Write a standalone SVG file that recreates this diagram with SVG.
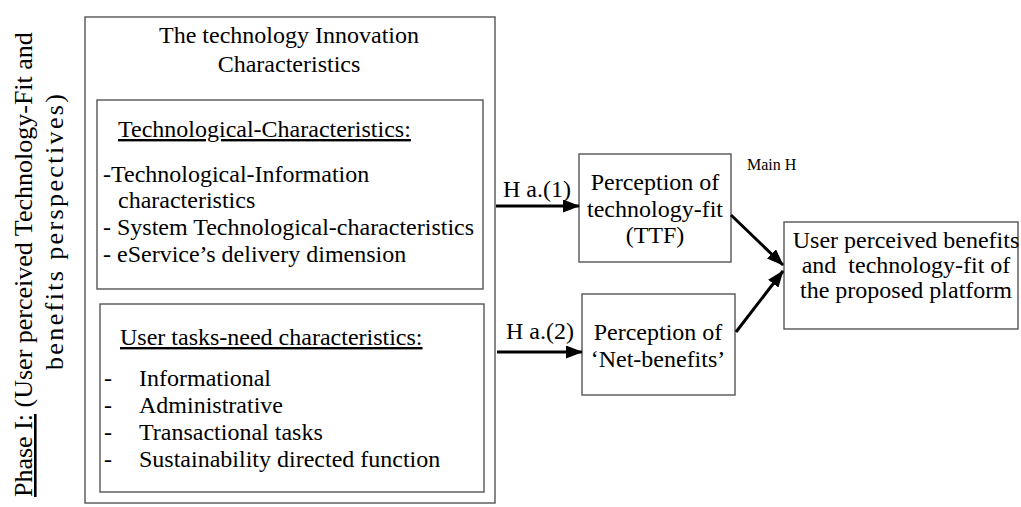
<svg xmlns="http://www.w3.org/2000/svg" width="1021" height="507" viewBox="0 0 1021 507">
  <defs>
    <marker id="arrow" markerWidth="17" markerHeight="13" refX="16" refY="6.5" orient="auto" markerUnits="userSpaceOnUse">
      <path d="M0,0 L17,6.5 L0,13 Z" fill="#000"/>
    </marker>
    <style>
      text { font-family: "Liberation Serif", "Times New Roman", serif; font-size: 24px; fill: #000; }
      .box { fill: #fff; stroke: #555; stroke-width: 1.4; }
      .c { text-anchor: middle; }
      .u { text-decoration: underline; }
      .side { font-size: 26px; }
      .small { font-size: 16px; }
      .edge { stroke: #000; stroke-width: 3; fill: none; marker-end: url(#arrow); }
      .pre { white-space: pre; }
    </style>
  </defs>

  <rect width="1021" height="507" fill="#fff"/>

  <!-- side heading, rotated -->
  <g id="phase-label">
    <text class="side pre" transform="translate(32,497) rotate(-90)"><tspan class="u">Phase I:</tspan> (User perceived Technology-Fit and</text>
    <text class="side" transform="translate(63,370) rotate(-90)" textLength="276" lengthAdjust="spacing">benefits perspectives)</text>
  </g>

  <!-- innovation characteristics container -->
  <g id="innovation">
    <rect class="box" x="85" y="17" width="410" height="486"/>
    <text class="c" x="289" y="43">The technology Innovation</text>
    <text class="c" x="289" y="72">Characteristics</text>
  </g>

  <g id="tech-characteristics">
    <rect class="box" x="97" y="100" width="386" height="189"/>
    <text class="u" x="118" y="137">Technological-Characteristics:</text>
    <text x="103" y="182">-Technological-Information</text>
    <text x="118" y="208">characteristics</text>
    <text x="103" y="235">- System Technological-characteristics</text>
    <text x="103" y="262">- eService’s delivery dimension</text>
  </g>

  <g id="task-characteristics">
    <rect class="box" x="100" y="304" width="384" height="188"/>
    <text class="u" x="120" y="345">User tasks-need characteristics:</text>
    <text x="104" y="386">-</text><text x="139" y="386">Informational</text>
    <text x="104" y="413">-</text><text x="139" y="413">Administrative</text>
    <text x="104" y="440">-</text><text x="139" y="440">Transactional tasks</text>
    <text x="104" y="467">-</text><text x="139" y="467">Sustainability directed function</text>
  </g>

  <g id="ttf">
    <rect class="box" x="579" y="154" width="152" height="108"/>
    <text class="c" x="655" y="190">Perception of</text>
    <text class="c" x="655" y="217">technology-fit</text>
    <text class="c" x="655" y="243">(TTF)</text>
  </g>

  <g id="net-benefits">
    <rect class="box" x="582" y="294" width="153" height="101"/>
    <text class="c" x="658" y="340">Perception of</text>
    <text class="c" x="658" y="367">‘Net-benefits’</text>
  </g>

  <g id="outcome">
    <rect class="box" x="784" y="222" width="234" height="107"/>
    <text class="c" x="906" y="248">User perceived benefits</text>
    <text class="c pre" x="906" y="273">and  technology-fit of</text>
    <text class="c" x="906" y="298">the proposed platform</text>
  </g>

  <g id="connectors">
    <line class="edge" x1="496" y1="206" x2="579" y2="206"/>
    <line class="edge" x1="497" y1="352" x2="582" y2="352"/>
    <line class="edge" x1="731" y1="215" x2="783" y2="265"/>
    <line class="edge" x1="736" y1="332" x2="783" y2="271"/>
    <text x="503" y="197">H a.(1)</text>
    <text x="506" y="339">H a.(2)</text>
    <text class="small" x="747" y="170">Main H</text>
  </g>
</svg>
